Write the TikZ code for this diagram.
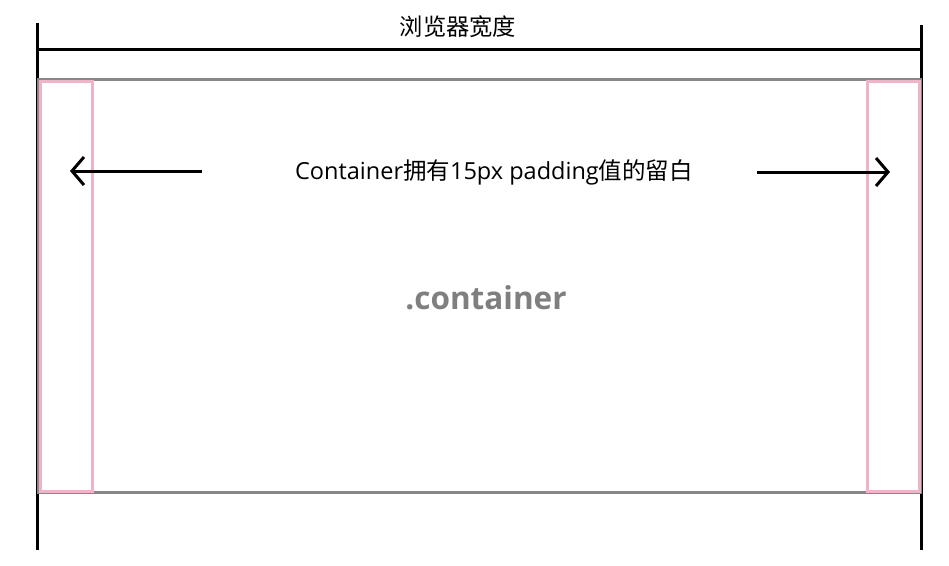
\documentclass[tikz,border=0pt]{standalone}
\usepackage{fontspec}
\setmainfont{Open Sans}
\newfontfamily\cjk{Noto Sans CJK SC}
\newfontfamily\lat{Open Sans}
\usetikzlibrary{arrows.meta}
\definecolor{boxgray}{HTML}{888888}
\definecolor{padpink}{HTML}{F0B4CA}
\definecolor{labgray}{HTML}{7F7F7F}
\tikzset{
  dimline/.style={draw=black,line width=3pt},
  cbox/.style={draw=boxgray,line width=3pt},
  pbox/.style={draw=padpink,line width=3pt},
  padarrow/.style={draw=black,line width=3pt,-{Straight Barb[length=12pt,width=28pt,line width=3pt]}},
  lbl/.style={inner sep=0pt,text=black}
}
\begin{document}
\begin{tikzpicture}[x=1pt,y=-1pt]
\useasboundingbox[fill=white] (0,0) rectangle (949,565);
% dimension lines
\coordinate (lt) at (37,23);
\coordinate (lb) at (37,550);
\coordinate (rt) at (921,25);
\coordinate (rb) at (921,550);
\coordinate (hl) at (37,49);
\coordinate (hr) at (920,49);
\draw[dimline] (lt) -- (lb);
\draw[dimline] (rt) -- (rb);
\draw[dimline] (hl) -- (hr);
% container
\draw[cbox] (38,79) rectangle (920,492);
% padding boxes
\draw[pbox] (40,81.5) rectangle (92,491);
\draw[pbox] (867,81.5) rectangle (919,491);
% labels
\node[lbl] (title) at (458,27) {\cjk\fontsize{23.3pt}{26pt}\selectfont 浏览器宽度};
\node[lbl] (pad) at (494,172) {\fontsize{23.5pt}{27pt}\selectfont{\lat Container}{\cjk 拥有}{\lat 15px padding}{\cjk 值的留白}};
\node[lbl,text=labgray] (cont) at (486,298) {\lat\bfseries\fontsize{31.5pt}{36pt}\selectfont .container};
% arrows
\coordinate (al) at (202,171);
\coordinate (alt) at (70,171);
\coordinate (ar) at (757,172);
\coordinate (art) at (890,172);
\draw[padarrow] (al) -- (alt);
\draw[padarrow] (ar) -- (art);
\end{tikzpicture}
\end{document}
